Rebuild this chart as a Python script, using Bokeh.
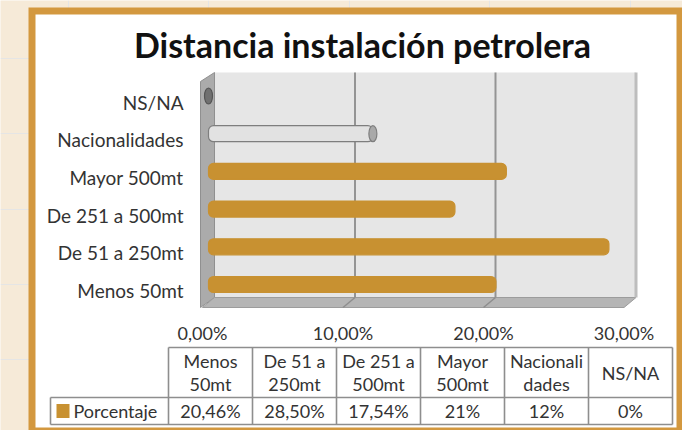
from bokeh.plotting import figure
from bokeh.models import Range1d, ColumnDataSource
from bokeh.core.properties import value
from bokeh.embed import file_html
from bokeh.resources import INLINE

# ---------------- data ----------------
title_text = "Distancia instalación petrolera"
categories = ["Menos 50mt", "De 51 a 250mt", "De 251 a 500mt",
              "Mayor 500mt", "Nacionalidades", "NS/NA"]
table_headers = ["Menos\n50mt", "De 51 a\n250mt", "De 251 a\n500mt",
                 "Mayor\n500mt", "Nacionali\ndades", "NS/NA"]
values = [20.46, 28.50, 17.54, 21.2, 11.7, 0.0]
value_labels = ["20,46%", "28,50%", "17,54%", "21%", "12%", "0%"]
series_name = "Porcentaje"
x_ticks = [0, 10, 20, 30]
x_tick_labels = ["0,00%", "10,00%", "20,00%", "30,00%"]

# ---------------- style / layout ----------------
W, H = 682, 430
BEIGE = "#F6EAD8"
FRAME = "#D3983F"
BAR = "#C89131"
TXT = "#333333"
FONT = value("Lato")
FS = value("18px")

X0, PX = 208.0, 14.05      # canvas x of 0 %, px per %
Y0, PY = 284.0, 37.7       # canvas y of first category, px per category
DX = 6.0                   # 3D depth offset (mid plane -> back plane)


def X(px):
    return (px - X0) / PX


def Y(py):
    return (Y0 - py) / PY


p = figure(width=W, height=H,
           x_range=Range1d(X(0), X(W)),
           y_range=Range1d(Y(H), Y(0)),
           output_backend="svg", toolbar_location=None,
           x_axis_location=None, y_axis_location=None,
           min_border=0, outline_line_color=None,
           background_fill_color=BEIGE, border_fill_color=BEIGE)

# frame
p.quad(left=X(28), right=X(720), top=Y(7), bottom=Y(470),
       fill_color=FRAME, line_color=None)
p.quad(left=X(35), right=X(676), top=Y(14), bottom=Y(427),
       fill_color="white", line_color=None)

# title
p.text(x=[X(362)], y=[Y(44)], text=[title_text], text_align="center",
       text_baseline="middle", text_font=FONT, text_font_size=value("34px"),
       text_font_style="bold", text_color="#111111")

# 3D walls
xmin, xmax = x_ticks[0], x_ticks[-1]
bdx, fdx = DX / PX, -DX / PX
wall_top, wall_bot = 72, 297
p.quad(left=xmin + bdx, right=xmax + bdx, top=Y(wall_top), bottom=Y(wall_bot),
       fill_color="#E6E6E6", line_color=None)
# side wall
p.patch(x=[X(200), xmin + bdx, xmin + bdx, X(200)],
        y=[Y(wall_top + 9), Y(wall_top), Y(wall_bot), Y(wall_bot + 10)],
        fill_color="#ABABAB", line_color="#909090", line_width=1)
# floor
p.patch(x=[xmin + fdx, xmax + fdx, xmax + bdx, xmin + bdx],
        y=[Y(wall_bot + 10), Y(wall_bot + 10), Y(wall_bot), Y(wall_bot)],
        fill_color="#B5B5B5", line_color="#9C9C9C", line_width=1)
# right edge of back wall
p.segment(x0=[xmax + bdx], y0=[Y(wall_top)], x1=[xmax + bdx], y1=[Y(wall_bot)],
          line_color="#BDBDBD", line_width=3)
# gridlines
inner = x_ticks[1:-1]
p.segment(x0=[t + bdx for t in inner], y0=[Y(wall_top)] * len(inner),
          x1=[t + bdx for t in inner], y1=[Y(wall_bot)] * len(inner),
          line_color="#949494", line_width=2)
p.segment(x0=[t + bdx for t in inner], y0=[Y(wall_bot)] * len(inner),
          x1=[t + fdx for t in inner], y1=[Y(wall_bot + 10)] * len(inner),
          line_color="#8E8E8E", line_width=1.5)

# bars
n = len(categories)
special = {4: ("#E2E2E2", "#7E7E7E", "#A9A9A9"), 5: ("#7A7A7A", "#555555", "#707070")}
fills = [special[i][0] if i in special else BAR for i in range(n)]
lines = [special[i][1] if i in special else BAR for i in range(n)]
src = ColumnDataSource(dict(y=list(range(n)), right=values, fill=fills, line=lines))
p.hbar(y="y", left=0, right="right", height=16 / PY, fill_color="fill",
       line_color="line", line_width=1.2, border_radius=5, source=src)
cap_idx = [i for i in range(n) if i in special]
p.ellipse(x=[values[i] for i in cap_idx], y=cap_idx, width=8 / PX, height=16 / PY,
          fill_color=[special[i][2] for i in cap_idx],
          line_color=[special[i][1] for i in cap_idx], line_width=1.2)

# category labels
p.text(x=[X(183)] * n, y=[i - 6 / PY for i in range(n)], text=categories,
       text_align="right", text_baseline="middle", text_font=FONT,
       text_font_size=value("19px"), text_color=TXT)

# x tick labels
p.text(x=[t + fdx for t in x_ticks], y=[Y(332)] * len(x_ticks), text=x_tick_labels,
       text_align="center", text_baseline="middle", text_font=FONT,
       text_font_size=FS, text_color=TXT)

# data table
c0, cw = 168, 84
t_top, t_mid, t_bot, leg_left = 347, 397, 424, 50
c_right = c0 + cw * n
sx0 = [X(c0), X(leg_left), X(leg_left), X(leg_left)]
sy0 = [Y(t_top), Y(t_mid), Y(t_bot), Y(t_mid)]
sx1 = [X(c_right), X(c_right), X(c_right), X(leg_left)]
sy1 = [Y(t_top), Y(t_mid), Y(t_bot), Y(t_bot)]
for k in range(n + 1):
    sx0.append(X(c0 + cw * k)); sy0.append(Y(t_top))
    sx1.append(X(c0 + cw * k)); sy1.append(Y(t_bot))
p.segment(x0=sx0, y0=sy0, x1=sx1, y1=sy1, line_color="#8E8E8E", line_width=1.6)

hx, hy, ht = [], [], []
hc = (t_top + t_mid) / 2
for k, h in enumerate(table_headers):
    parts = h.split("\n")
    for j, part in enumerate(parts):
        hx.append(X(c0 + cw * (k + 0.5)))
        hy.append(Y(hc + (j - (len(parts) - 1) / 2) * 23))
        ht.append(part)
p.text(x=hx, y=hy, text=ht, text_align="center", text_baseline="middle",
       text_font=FONT, text_font_size=FS, text_color=TXT)

cx = [X(c0 + cw * (k + 0.5)) for k in range(n)]
ym = (t_mid + t_bot) / 2
p.text(x=cx, y=[Y(ym)] * n, text=value_labels, text_align="center",
       text_baseline="middle", text_font=FONT, text_font_size=FS, text_color=TXT)
p.quad(left=X(56), right=X(69), top=Y(ym - 7), bottom=Y(ym + 7),
       fill_color=BAR, line_color=None)
p.text(x=[X(73)], y=[Y(ym)], text=[series_name], text_align="left",
       text_baseline="middle", text_font=FONT, text_font_size=FS, text_color=TXT)

open("out.html", "w").write(file_html(p, INLINE))
